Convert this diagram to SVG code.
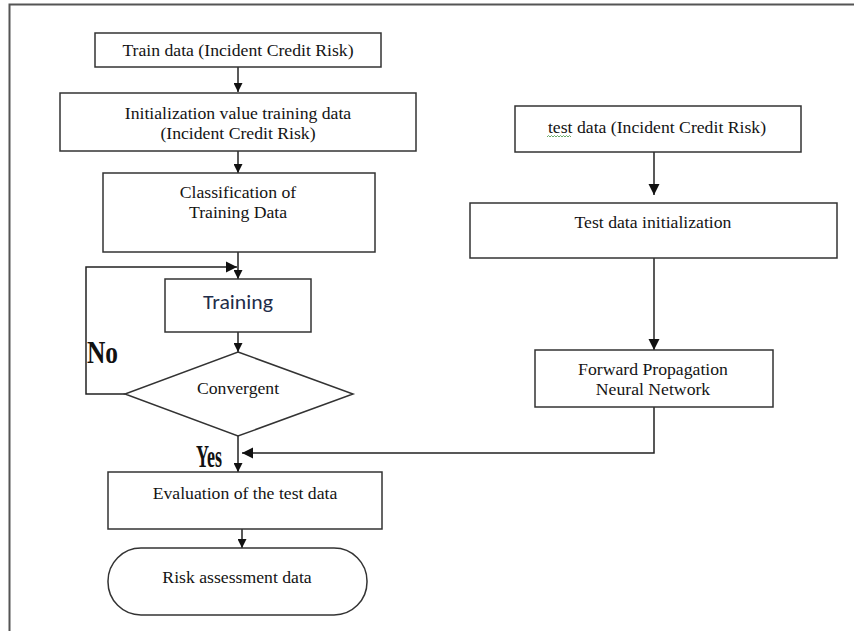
<svg xmlns="http://www.w3.org/2000/svg" width="854" height="631" viewBox="0 0 854 631">
  <style>
    .box { fill: #fff; stroke: #333; stroke-width: 1.5; }
    .wire { fill: none; stroke: #222; stroke-width: 1.5; }
    .lbl { font-family: "Liberation Serif", "Times New Roman", serif; font-size: 17.7px; fill: #141414; text-anchor: middle; }
    .sans { font-family: Carlito, Calibri, "Open Sans", "Liberation Sans", sans-serif; font-size: 20px; fill: #1f2d4a; text-anchor: middle; }
    .tag { font-family: "Liberation Serif", "Times New Roman", serif; font-weight: bold; font-size: 32px; fill: #111; }
  </style>
  <defs>
    <marker id="arrow" viewBox="0 0 10 10" refX="10" refY="5" markerWidth="9" markerHeight="9" markerUnits="userSpaceOnUse" orient="auto">
      <path d="M0,0 L10,5 L0,10 z" fill="#111"/>
    </marker>
    <marker id="arrowBig" viewBox="0 0 10 10" refX="10" refY="5" markerWidth="11" markerHeight="12" markerUnits="userSpaceOnUse" orient="auto">
      <path d="M0,0 L10,5 L0,10 z" fill="#111"/>
    </marker>
  </defs>

  <rect width="854" height="631" fill="#fff"/>
  <!-- page frame -->
  <path d="M9.5,631 V4.5 H854" fill="none" stroke="#555" stroke-width="2"/>

  <g id="connectors">
    <path class="wire" d="M238,67 V92" marker-end="url(#arrow)"/>
    <path class="wire" d="M238,151 V173" marker-end="url(#arrow)"/>
    <path class="wire" d="M238,252 V279" marker-end="url(#arrow)"/>
    <path class="wire" d="M125,394 H86 V267 H237" marker-end="url(#arrowBig)"/>
    <path class="wire" d="M238,332 V352" marker-end="url(#arrow)"/>
    <path class="wire" d="M238,436 V472" marker-end="url(#arrow)"/>
    <path class="wire" d="M654,407 V453 H242" marker-end="url(#arrowBig)"/>
    <path class="wire" d="M242,529 V548" marker-end="url(#arrow)"/>
    <path class="wire" d="M654,152 V195" marker-end="url(#arrowBig)"/>
    <path class="wire" d="M654,258 V350" marker-end="url(#arrowBig)"/>
  </g>

  <g id="train-data">
    <rect class="box" x="95" y="33" width="286" height="34"/>
    <text class="lbl" x="238" y="56">Train data (Incident Credit Risk)</text>
  </g>

  <g id="init-training">
    <rect class="box" x="60" y="93" width="356" height="58"/>
    <text class="lbl" x="238" y="119">Initialization value training data</text>
    <text class="lbl" x="238" y="139">(Incident Credit Risk)</text>
  </g>

  <g id="classification">
    <rect class="box" x="103" y="173" width="272" height="79"/>
    <text class="lbl" x="238" y="198">Classification of</text>
    <text class="lbl" x="238" y="218">Training Data</text>
  </g>

  <g id="training">
    <rect class="box" x="165" y="279" width="146" height="53"/>
    <text class="sans" x="238" y="309" textLength="70" lengthAdjust="spacingAndGlyphs">Training</text>
  </g>

  <g id="convergent">
    <polygon class="box" points="238,352 353,394 238,436 125,394"/>
    <text class="lbl" x="238" y="394">Convergent</text>
  </g>

  <g id="label-no">
    <text class="tag" x="87" y="363" textLength="31" lengthAdjust="spacingAndGlyphs">No</text>
  </g>
  <g id="label-yes">
    <text class="tag" x="196" y="467" textLength="26" lengthAdjust="spacingAndGlyphs">Yes</text>
  </g>

  <g id="evaluation">
    <rect class="box" x="108" y="472" width="274" height="57"/>
    <text class="lbl" x="245" y="499">Evaluation of the test data</text>
  </g>

  <g id="risk-assessment">
    <rect class="box" x="108" y="548" width="259" height="67" rx="33" ry="33"/>
    <text class="lbl" x="237" y="583">Risk assessment data</text>
  </g>

  <g id="test-data">
    <rect class="box" x="515" y="106" width="286" height="46"/>
    <text class="lbl" x="657" y="133">test data (Incident Credit Risk)</text>
    <!-- spell-check squiggle under the first word -->
    <path d="M547,137 l1.5,-1.5 l1.5,1.5 l1.5,-1.5 l1.5,1.5 l1.5,-1.5 l1.5,1.5 l1.5,-1.5 l1.5,1.5 l1.5,-1.5 l1.5,1.5 l1.5,-1.5 l1.5,1.5 l1.5,-1.5 l1.5,1.5 l1.5,-1.5 l1.5,1.5" fill="none" stroke="#5aa05a" stroke-width="0.9"/>
  </g>

  <g id="test-init">
    <rect class="box" x="470" y="203" width="367" height="55"/>
    <text class="lbl" x="653" y="228">Test data initialization</text>
  </g>

  <g id="forward-propagation">
    <rect class="box" x="535" y="350" width="238" height="57"/>
    <text class="lbl" x="653" y="375">Forward Propagation</text>
    <text class="lbl" x="653" y="395">Neural Network</text>
  </g>
</svg>
